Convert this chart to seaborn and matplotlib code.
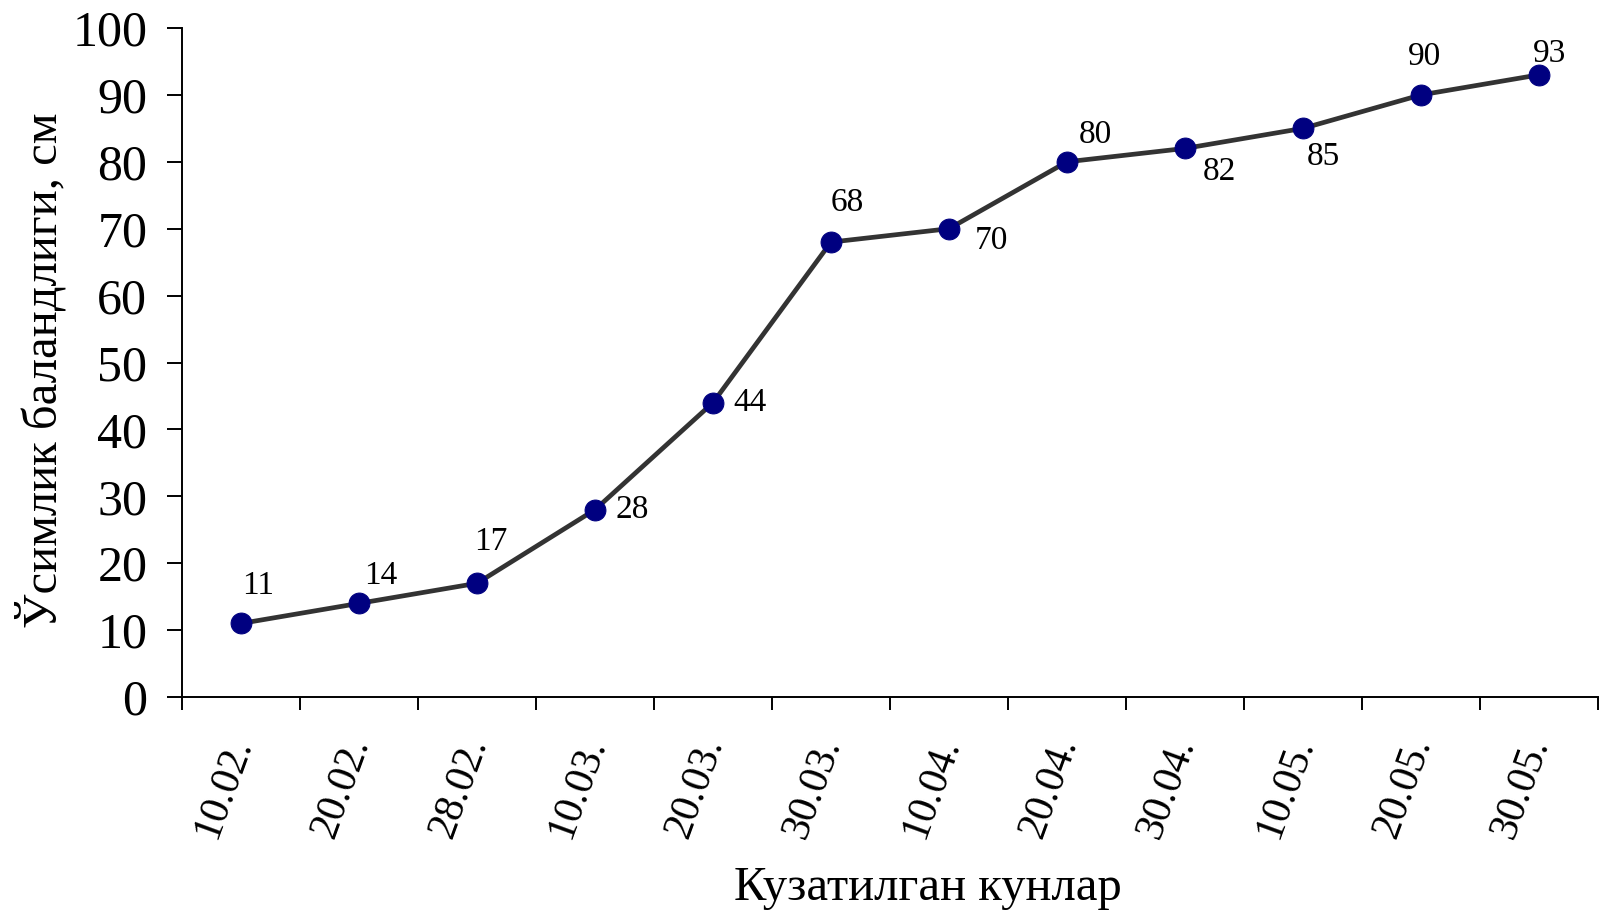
import seaborn as sns
import numpy as np
import matplotlib.pyplot as plt
from matplotlib.ticker import FixedLocator, MultipleLocator


dates = ["10.02.", "20.02.", "28.02.", "10.03.", "20.03.", "30.03.",
         "10.04.", "20.04.", "30.04.", "10.05.", "20.05.", "30.05."]
heights = [11, 14, 17, 28, 44, 68, 70, 80, 82, 85, 90, 93]

# label offsets in pixels (dx right, dy down) measured from the point
label_offsets = [(17, -38), (22, -28), (14, -42), (37, 0), (37, 0), (16, -39),
                 (42, 12), (28, -27), (34, 23), (20, 28), (4, -38), (11, -21)]

sns.set_style("ticks")
plt.rcParams["font.family"] = ["Liberation Serif", "DejaVu Serif"]
for key in ["text.color", "axes.labelcolor", "xtick.color", "ytick.color"]:
    plt.rcParams[key] = "black"

fig = plt.figure(figsize=(16.02, 9.18), dpi=100)
ax = fig.add_axes([0.1136, 0.2407, 0.8839, 0.7288])

sns.lineplot(x=dates, y=heights, sort=False, ax=ax, color="#333333",
             linewidth=3.4, marker="o", markersize=15, markerfacecolor="#000080",
             markeredgecolor="#000080", zorder=3)

px = 0.72  # pixel -> point at dpi 100
for d, h, (dx, dy) in zip(dates, heights, label_offsets):
    ax.annotate(str(h), xy=(d, h), xytext=(dx * px, -dy * px),
                textcoords="offset points", ha="center", va="center",
                fontsize=24, color="black")

ax.set_xlim(-0.5, len(dates) - 0.5)
ax.set_ylim(0, 100)
ax.yaxis.set_major_locator(MultipleLocator(10))

ax.xaxis.set_minor_locator(FixedLocator(np.arange(-0.5, len(dates), 1.0)))
ax.tick_params(axis="x", which="major", length=0, pad=30, labelsize=30)
ax.tick_params(axis="x", which="minor", length=9.5, width=1.4, direction="out")
ax.tick_params(axis="y", which="major", length=11, width=1.4, direction="out",
               pad=14, labelsize=36)
for lab in ax.get_xticklabels():
    lab.set_rotation(70)
    lab.set_rotation_mode("anchor")
    lab.set_ha("right")
    lab.set_va("center")

sns.despine(ax=ax)
for sp in ["left", "bottom"]:
    ax.spines[sp].set_linewidth(1.4)
    ax.spines[sp].set_color("black")

ax.set_xlabel("Кузатилган кунлар", fontsize=35)
ax.xaxis.set_label_coords(0.527, -0.2855)
ax.xaxis.label.set_va("center")
ax.set_ylabel("Ўсимлик баландлиги, см", fontsize=35)
ax.yaxis.set_label_coords(-0.0996, 0.489)
ax.yaxis.label.set_va("center")

fig.savefig("out.png", dpi=100)
